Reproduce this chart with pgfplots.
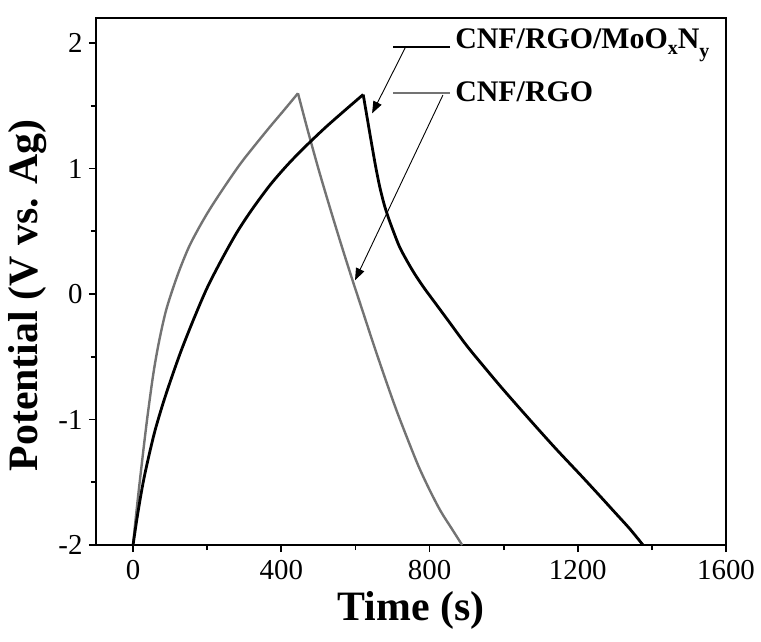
\documentclass[border=0pt]{standalone}
\usepackage{pgfplots}
\pgfplotsset{compat=1.18}
\usepackage{fontspec}
\setmainfont{Liberation Serif}
\usetikzlibrary{arrows.meta}

\definecolor{cnfgray}{rgb}{0.45,0.45,0.45}

\begin{document}
\begin{tikzpicture}
\begin{axis}[
  at={(0,0)}, anchor=south west,
  scale only axis,
  width=630bp, height=527bp,
  xmin=-100, xmax=1600,
  ymin=-2, ymax=2.2,
  xtick={0,400,800,1200,1600},
  ytick={-2,-1,0,1,2},
  minor x tick num=1,
  minor y tick num=1,
  tick pos=left,
  tick align=outside,
  major tick length=7bp,
  minor tick length=5bp,
  every tick/.style={line width=1.8bp, black},
  axis line style={line width=2.2bp},
  /pgf/number format/assume math mode=true,
  /pgf/number format/1000 sep={},
  ticklabel style={font=\fontsize{29}{29}\selectfont},
  xticklabel style={yshift=-5bp},
  yticklabel style={xshift=-3bp},
  xlabel={Time (s)},
  ylabel={Potential (V vs. Ag)},
  label style={font=\fontsize{42}{42}\selectfont\bfseries},
  xlabel style={at={(axis description cs:0.5,-0.125)}, anchor=center},
  ylabel style={at={(axis description cs:-0.108,0.474)}, anchor=center},
  clip=false,
]

% CNF/RGO: charge branch
\addplot[cnfgray, line width=2.4bp, smooth] coordinates {
  (0,-2.00) (5,-1.85) (10,-1.71) (15,-1.575) (20,-1.445) (30,-1.19)
  (40,-0.95) (55,-0.63) (70,-0.38) (90,-0.12) (120,0.15) (150,0.37)
  (180,0.54) (210,0.69) (250,0.87) (290,1.04) (330,1.19) (370,1.335)
  (410,1.475) (445,1.60)
};
% CNF/RGO: discharge branch
\addplot[cnfgray, line width=2.4bp, smooth] coordinates {
  (445,1.60) (470,1.32) (500,1.00) (530,0.70) (560,0.41) (590,0.13)
  (620,-0.14) (650,-0.41) (680,-0.67) (710,-0.92) (740,-1.15)
  (770,-1.37) (800,-1.56) (830,-1.73) (860,-1.87) (888,-2.00)
};

% CNF/RGO/MoOxNy: charge branch
\addplot[black, line width=2.8bp, smooth] coordinates {
  (0,-2.00) (10,-1.80) (20,-1.62) (30,-1.46) (45,-1.26) (60,-1.08)
  (80,-0.88) (100,-0.70) (130,-0.45) (165,-0.19) (200,0.05) (240,0.28)
  (280,0.49) (320,0.67) (370,0.87) (420,1.04) (470,1.19) (520,1.33)
  (570,1.46) (621,1.59)
};
% CNF/RGO/MoOxNy: discharge branch
\addplot[black, line width=2.8bp, smooth] coordinates {
  (621,1.59) (632,1.40) (643,1.21) (655,1.01) (666,0.85) (678,0.71)
  (690,0.60) (705,0.48) (720,0.37) (740,0.26) (760,0.16) (785,0.05)
  (815,-0.07) (850,-0.21) (900,-0.41) (950,-0.59) (1000,-0.765)
  (1070,-1.00) (1140,-1.23) (1210,-1.45) (1260,-1.61) (1300,-1.74)
  (1340,-1.87) (1376,-2.00)
};

% series labels with pointers
\draw[black, line width=2.2bp] (axis cs:702,1.968) -- (axis cs:855,1.968);
\draw[cnfgray, line width=2.2bp] (axis cs:702,1.60) -- (axis cs:855,1.60);
\draw[black, line width=0.9bp, -{Triangle[length=12bp,width=9bp]}]
  (axis cs:734,1.96) -- (axis cs:645,1.44);
\draw[black, line width=0.9bp, -{Triangle[length=12bp,width=9bp]}]
  (axis cs:836,1.585) -- (axis cs:599,0.11);
\node[anchor=west, inner sep=0pt, font=\fontsize{30}{30}\selectfont\bfseries]
  at (axis cs:869,1.98) {CNF/RGO/MoO\raisebox{-6bp}{\fontsize{20}{20}\selectfont x}N\raisebox{-9bp}{\fontsize{20}{20}\selectfont y}};
\node[anchor=west, inner sep=0pt, font=\fontsize{30}{30}\selectfont\bfseries]
  at (axis cs:869,1.61) {CNF/RGO};
\end{axis}
\pgfresetboundingbox
\useasboundingbox (-96bp,-97bp) rectangle (665bp,545bp);
\end{tikzpicture}
\end{document}
